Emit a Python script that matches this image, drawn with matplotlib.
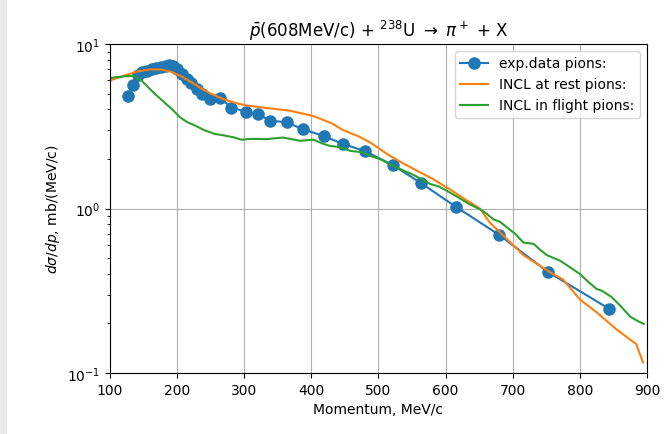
import matplotlib
matplotlib.use("Agg")
import matplotlib.pyplot as plt
from matplotlib.patches import Rectangle

# experimental data
exp_x = [127, 135, 142, 148, 155, 162, 169, 176, 183, 188, 194, 200, 207, 214, 221, 229, 237,
         249, 264, 281, 302, 320, 339, 363, 387, 419, 447, 480, 521, 564, 616, 680, 753, 844]
exp_y = [4.85, 5.6, 6.5, 6.8, 6.9, 7.0, 7.1, 7.2, 7.3, 7.45, 7.3, 7.0, 6.6, 6.1, 5.8, 5.3, 4.95,
         4.65, 4.7, 4.1, 3.88, 3.74, 3.42, 3.34, 3.04, 2.75, 2.47, 2.23, 1.84, 1.42, 1.02, 0.69, 0.41, 0.245]

# INCL at rest
rest_x = [100, 120, 140, 160, 175, 190, 205, 220, 235, 250, 270, 290, 305, 330, 368, 402, 430,
          447, 470, 487, 502, 517, 537, 557, 580, 606, 630, 651, 666, 690, 716, 740, 760, 775,
          800, 825, 854, 879, 884, 894]
rest_y = [6.0, 6.4, 6.8, 7.0, 7.0, 6.8, 6.4, 5.9, 5.4, 5.0, 4.6, 4.35, 4.22, 4.1, 3.93, 3.66, 3.3,
          3.0, 2.75, 2.53, 2.3, 2.09, 1.88, 1.70, 1.52, 1.31, 1.13, 1.0, 0.82, 0.66, 0.52, 0.45, 0.40,
          0.37, 0.28, 0.234, 0.185, 0.155, 0.15, 0.116]

# INCL in flight
flight_x = [100, 107, 120, 130, 137, 147, 157, 167, 180, 192, 204, 215, 227, 240, 256, 270, 284,
            296, 310, 333, 358, 383, 403, 418, 428, 443, 458, 478, 487, 502, 517, 532, 552, 565,
            577, 590, 602, 614, 626, 638, 651, 661, 671, 681, 691, 704, 716, 731, 741, 751, 761,
            771, 785, 800, 812, 825, 833, 847, 860, 875, 888, 895]
flight_y = [6.2, 6.27, 6.35, 6.4, 6.35, 5.99, 5.45, 4.97, 4.45, 4.03, 3.59, 3.35, 3.19, 3.0, 2.84,
            2.78, 2.71, 2.62, 2.65, 2.64, 2.70, 2.58, 2.62, 2.47, 2.40, 2.36, 2.24, 2.19, 2.09, 2.0,
            1.86, 1.74, 1.60, 1.50, 1.41, 1.36, 1.28, 1.20, 1.12, 1.05, 0.99, 0.93, 0.86, 0.83, 0.77,
            0.70, 0.62, 0.61, 0.56, 0.52, 0.50, 0.48, 0.44, 0.40, 0.36, 0.324, 0.316, 0.29, 0.257,
            0.22, 0.205, 0.199]

fig = plt.figure(figsize=(6.64, 4.35), dpi=100)
fig.patches.append(Rectangle((0, 0), 7 / 664, 1, transform=fig.transFigure,
                             facecolor="#ebebeb", edgecolor="none", zorder=-1))
ax = fig.add_axes([110 / 664, 1 - 374 / 435, 537 / 664, 329 / 435])

ax.plot(exp_x, exp_y, "-o", color="C0", markersize=8, label="exp.data pions:")
ax.plot(rest_x, rest_y, "-", color="C1", label="INCL at rest pions:")
ax.plot(flight_x, flight_y, "-", color="C2", label="INCL in flight pions:")

ax.set_yscale("log")
ax.set_xlim(100, 900)
ax.set_ylim(0.1, 10)
ax.grid(True)
ax.set_xlabel("Momentum, MeV/c")
ax.set_ylabel(r"$d\sigma/dp$, mb/(MeV/c)")
ax.set_title(r"$\bar{p}$(608MeV/c) + $^{238}$U $\rightarrow$ $\pi^+$ + X", fontsize=12)
ax.legend(loc="upper right")

fig.savefig("out.png", dpi=100)
